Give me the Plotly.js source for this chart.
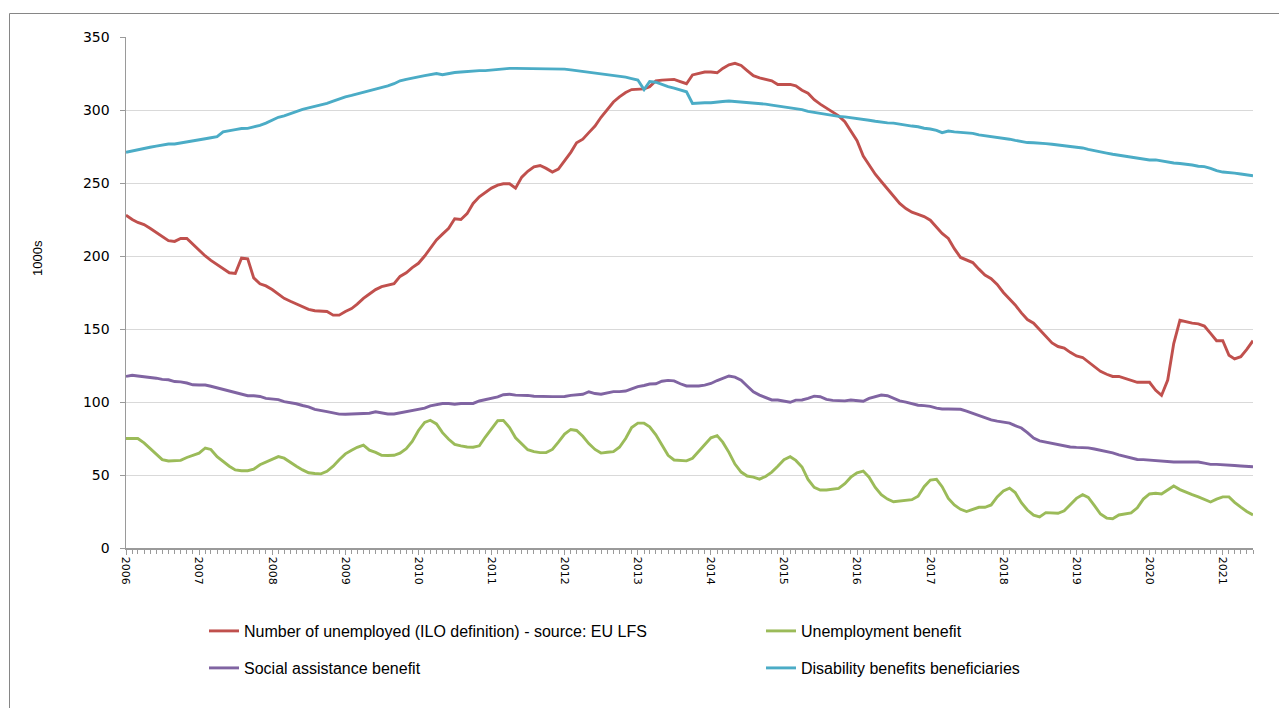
<!DOCTYPE html>
<html>
<head>
<meta charset="utf-8">
<script src="https://cdn.plot.ly/plotly-3.0.1.min.js"></script>
<style>
  html, body { margin: 0; padding: 0; background: #ffffff; }
  #chart { width: 1279px; height: 708px; }
</style>
</head>
<body>
<div id="chart"></div>
<script>
// Monthly series, Jan 2006 - Jun 2021 (thousands)
const startYear = 2006;
const yearTicks = ['2006','2007','2008','2009','2010','2011','2012','2013','2014','2015','2016','2017','2018','2019','2020','2021'];

const unemployedILO = [
228,225,223,221.5,219,216,213,210.5,210,212,212,208,
204,200,197,194,191,188.5,188,198.5,198,185,181,179.5,
177,174,171,169,167,165,163.5,162.5,162,162,159.5,159.5,
162,164,167,171,174,177,179,180,181,186,188.5,192,
195,200,205,211,215,219,225.5,225,229,236,240.5,243.5,
246.5,248.5,249.5,249.5,246.5,254,258,261,262,260,257.5,259.5,
265,271,277.5,280,284.5,289,295,300,305.5,309,312,314,
314,314.5,316,320,320.5,320.5,321,319.5,318,324,325,326,
326,325.5,328.5,331,332,330.5,327,323.5,322,321,320,317.5,
317.5,317.5,316.5,313.5,311.5,307,304,301.5,298.5,296,292,286,
279,268.5,262,256,251,246,241.5,236,232.5,230,228.5,227,
224.5,220,215.5,212,205,199,197,195.5,191,187,184.5,180.5,
175,170.5,166.5,161,156.5,154,149.5,144.5,140.5,138,137,134,
131.5,130.5,127.5,124,121,119,117.5,117.5,116,114.5,113.5,113.5,
113.5,108,104.5,115,140,156,155,154,153.5,152,147,142,
142,132,129.5,131,136,142
];

const unemploymentBenefit = [
75,75,75,72,68,64,60.5,59.6,59.6,60,62,63.5,
65,68.5,67.5,62.5,59,56,53.5,52.9,52.9,54,57,59,
61,62.6,61.5,58.5,56,53.5,51.5,51,50.8,52.5,56,60.5,
64.5,67,69,70.5,67,65.5,63.5,63.4,63.5,65,68,73,
80.5,86,87.5,85,79,74.5,71,70,69.2,69,70,76,
82,87.2,87.4,82.5,75.5,71.5,67.3,66,65.3,65.3,67.5,72.5,
78,81.2,80.5,76.5,71.5,67.5,65,65.6,66,69,75,82.5,
85.5,85.5,83,77.5,70.5,63.5,60.3,60,59.7,61.5,66,71,
75.5,77,72.5,65.5,57.5,52,49.3,48.5,47.2,49,52,56,
60.5,62.5,60,55.5,47,41.5,39.7,39.7,40,40.8,44,48.5,
51.5,52.7,48.5,41.5,36.5,33.5,31.7,32.3,32.7,33.1,35.5,42,
46.5,47,42,34,29.5,26.5,25,26.5,27.9,27.9,29.5,35,
39,41,38,31,26,22.5,21.3,24.2,24,23.8,25.5,30,
34,36.5,34.6,29,23.3,20.5,20,22.6,23.5,24,27.5,33.5,
37,37.5,37,40,42.5,40,38,36.5,35,33,31.5,33.5,
35,35,31.3,28,25,22.6
];

const socialAssistance = [
117.5,118.3,117.8,117.3,117.3,116.3,115.5,115.2,114,113.8,113,111.8,
111.6,111.6,110.8,109.7,108.5,107.6,106.6,105.3,104.3,104.3,103.8,102.5,
102.2,101.6,100.2,99.7,98.8,97.6,96.7,95,94,93.4,92.6,91.7,
91.6,91.8,92.2,92.6,92.3,93.3,92.4,91.8,91.8,92.5,93.5,94,
94.6,95.8,97.3,98.3,99,99,98.5,99,99,99,100.7,101.5,
102.5,103.5,105,105.3,104.7,104.8,104.5,103.9,104,103.7,103.7,103.7,
103.8,104.5,105,105.3,107,105.8,105.3,106.2,107.1,107.1,107.5,109,
110.5,111.3,112.3,112.5,114.2,114.8,114.5,112.5,111,111,111,111.6,
112.7,114.7,116.4,117.8,117,115,111,107,104.7,103.3,101.4,101.4,
100.8,99.8,101.3,101.4,102.5,104,103.6,101.8,101.1,100.8,100.8,101.4,
101,100.5,102.5,103.8,104.8,104.3,102.5,100.8,99.9,98.7,97.8,97.5,
97,95.8,95.2,95.2,95.2,95,93.8,92.2,90.6,89.1,87.8,86.9,
86.4,85.5,83.8,82.2,79,75.3,73.4,72.5,71.6,70.6,69.9,69.2,
68.9,68.8,68.6,67.8,67,66.3,65.1,63.8,62.8,61.5,60.6,60.5,
60.1,59.6,59.4,59.2,58.9,58.9,58.9,58.9,58.9,58.1,57.3,57.3,
57.2,56.9,56.5,56.2,56,55.7
];

const disabilityBeneficiaries = [
271,272,273,273.5,274.5,275.3,276,276.7,276.7,277.5,278,278.8,
279.5,280.3,281,281.7,285,286,286.6,287.3,287.4,288.5,289.5,291,
293,295,296,297.5,299.3,300.5,301.5,302.5,303.5,304.5,306,307.5,
309,310,311,312,313,314.5,315.5,316.5,318,320,321,322,
322.7,323.5,324.2,325,324.2,325,325.7,326,326.5,326.8,327,327,
327.5,328,328.3,328.5,328.5,328.5,328.5,328.5,328.5,328.5,328.5,328.5,
328,327.5,327,326.5,326,325.5,325,324.5,324,323.3,322.5,321.5,
320.5,314,319.5,319,317.5,316,315,313.8,312.5,304.5,305,305,
305,305.2,305.8,306.2,305.8,305.6,305.5,305,304.5,304,303.3,302.8,
302,301.5,300.8,300.3,299,298.3,297.5,296.8,296.2,295.6,295.3,294.8,
294.5,293.5,293,292.3,291.6,291.2,291,290.5,289.5,289,288.5,287.5,
287,286,284.5,285.6,285,284.8,284.6,284,283,282.5,282,281.3,
280.5,280,279.2,278.5,277.7,277.6,277.5,277,276.5,275.8,275.5,275,
274.5,274,273,272,271.2,270.5,269.7,269,268.7,268,267,266.2,
265.8,265.8,265,264.3,263.7,263.4,263,262.3,261.5,261.2,260,258.5,
257.5,257.3,256.8,256.2,255.6,255
];

const seriesNames = [
  'Number of unemployed (ILO definition) - source: EU LFS',
  'Unemployment benefit',
  'Social assistance benefit',
  'Disability benefits beneficiaries'
];
const seriesColors = ['#c0504d', '#9bbb59', '#8064a2', '#4bacc6'];

// month labels (category axis)
const months = unemployedILO.map(function(_, i) {
  const y = startYear + Math.floor(i / 12);
  const m = (i % 12) + 1;
  return y + '-' + (m < 10 ? '0' + m : m) + '-01';
});

const allSeries = [unemployedILO, unemploymentBenefit, socialAssistance, disabilityBeneficiaries];
const legendIds = ['legend', 'legend2', 'legend3', 'legend4'];

const traces = allSeries.map(function(vals, k) {
  return {
    type: 'scatter',
    mode: 'lines',
    x: months,
    y: vals,
    name: seriesNames[k],
    legend: legendIds[k],
    line: { color: seriesColors[k], width: 2.9 },
    hoverinfo: 'x+y+name'
  };
});

const legendFont = { family: 'Liberation Sans, Arial, sans-serif', size: 16, color: '#000000' };
function px2x(px) { return (px - 126) / 1127; }
function px2y(py) { return (548 - py) / 511; }
function mkLegend(xpx, ypx) {
  return {
    orientation: 'h',
    x: px2x(xpx), xanchor: 'left',
    y: px2y(ypx), yanchor: 'middle',
    font: legendFont,
    bgcolor: 'rgba(0,0,0,0)'
  };
}

const layout = {
  width: 1279,
  height: 708,
  margin: { l: 126, r: 26, t: 37, b: 160 },
  paper_bgcolor: '#ffffff',
  plot_bgcolor: '#ffffff',
  showlegend: true,
  font: { family: 'DejaVu Sans, Verdana, sans-serif', color: '#000000' },
  xaxis: {
    type: 'date',
    range: [months[0], months[months.length - 1]],
    tickmode: 'array',
    tickvals: yearTicks.map(function(y) { return y + '-01-01'; }),
    ticktext: yearTicks,
    tickangle: 90,
    ticks: 'outside',
    ticklen: 5,
    tickcolor: '#9a9a9a',
    tickfont: { family: 'DejaVu Sans, Verdana, sans-serif', size: 11, color: '#000000' },
    showgrid: false,
    zeroline: false,
    showline: true,
    linecolor: '#9a9a9a',
    linewidth: 1.5,
    minor: { dtick: 'M1', tick0: months[0], ticks: 'outside', ticklen: 4, tickcolor: '#9a9a9a', showgrid: false }
  },
  yaxis: {
    range: [0, 350],
    dtick: 50,
    tick0: 0,
    ticks: 'outside',
    ticklen: 5,
    tickcolor: '#9a9a9a',
    ticklabelstandoff: 7,
    tickfont: { family: 'DejaVu Sans, Verdana, sans-serif', size: 14, color: '#000000' },
    showgrid: true,
    gridcolor: '#d9d9d9',
    gridwidth: 1,
    zeroline: false,
    showline: true,
    linecolor: '#9a9a9a',
    linewidth: 1.5
  },
  legend: mkLegend(204, 631),
  legend2: mkLegend(761, 631),
  legend3: mkLegend(204, 668),
  legend4: mkLegend(761, 668),
  annotations: [{
    text: '1000s',
    xref: 'paper', yref: 'paper',
    x: px2x(37), y: px2y(258),
    xanchor: 'center', yanchor: 'middle',
    textangle: -90,
    showarrow: false,
    font: { family: 'Liberation Sans, Arial, sans-serif', size: 13, color: '#000000' }
  }],
  shapes: [
    { type: 'line', xref: 'paper', yref: 'paper', x0: px2x(9.5), x1: px2x(9.5), y0: px2y(13.5), y1: px2y(720), line: { color: '#868686', width: 1 } },
    { type: 'line', xref: 'paper', yref: 'paper', x0: px2x(9.5), x1: px2x(1290), y0: px2y(13.5), y1: px2y(13.5), line: { color: '#868686', width: 1 } }
  ]
};

Plotly.newPlot('chart', traces, layout, { displayModeBar: false, staticPlot: true });
</script>
</body>
</html>
